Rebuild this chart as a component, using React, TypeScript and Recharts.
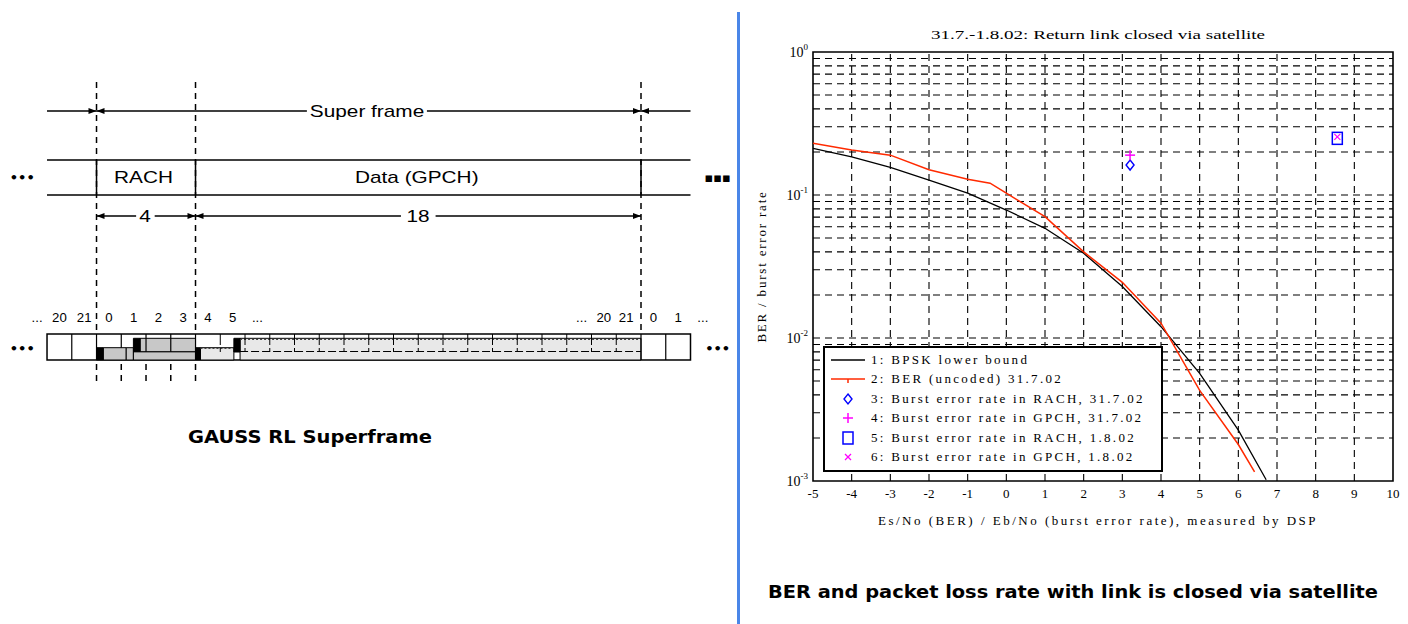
import React from "react";
import {
  ComposedChart,
  Line,
  Scatter,
  XAxis,
  YAxis,
  ReferenceLine,
  ReferenceArea,
  Legend,
} from "recharts";

// ---------- right chart: BER curves ----------
const bpskX = [-5, -4, -3, -2, -1, 0, 1, 2, 3, 4, 5, 6, 6.72];
const bpskY = [0.212, 0.185, 0.156, 0.127, 0.103, 0.0785, 0.0585, 0.0391, 0.0229, 0.012, 0.00566, 0.00227, 0.00102];

const berX = [-5, -4, -3, -2, -1, -0.42, 0, 1, 2, 3, 4, 5, 6, 6.42];
const berY = [0.23, 0.2065, 0.19, 0.15, 0.129, 0.121, 0.103, 0.0705, 0.04, 0.0245, 0.0127, 0.0043, 0.0018, 0.00116];

const rach3107 = [{ x: 3.2, y: 0.162 }];
const gpch3107 = [{ x: 3.2, y: 0.19 }];
const rach0108 = [{ x: 8.56, y: 0.249 }];
const gpch0108 = [{ x: 8.56, y: 0.255 }];

const xTicks = [-5, -4, -3, -2, -1, 0, 1, 2, 3, 4, 5, 6, 7, 8, 9, 10];
const yTicks = [0.001, 0.01, 0.1, 1];
const yGrid = [
  0.002, 0.003, 0.004, 0.005, 0.006, 0.007, 0.008, 0.009, 0.01,
  0.02, 0.03, 0.04, 0.05, 0.06, 0.07, 0.08, 0.09, 0.1,
  0.2, 0.3, 0.4, 0.5, 0.6, 0.7, 0.8, 0.9,
];

const legendItems = [
  { label: "1: BPSK lower bound", color: "#000000", symbol: "line" },
  { label: "2: BER (uncoded) 31.7.02", color: "#ff2a00", symbol: "tick" },
  { label: "3: Burst error rate in RACH, 31.7.02", color: "#0000ff", symbol: "diamond" },
  { label: "4: Burst error rate in GPCH, 31.7.02", color: "#ff00ff", symbol: "plus" },
  { label: "5: Burst error rate in RACH, 1.8.02", color: "#0000ff", symbol: "square" },
  { label: "6: Burst error rate in GPCH, 1.8.02", color: "#ff00ff", symbol: "cross" },
];

const bpsk = bpskX.map((x, i) => ({ x, y: bpskY[i] }));
const ber = berX.map((x, i) => ({ x, y: berY[i] }));

// ---------- left diagram: superframe (x in slots) ----------
const frameEdges = [0, 4, 22];
const boxEnds = [-2, 24];
const headLabels = [
  { x: 10.93, row: "super", text: "Super frame" },
  { x: 1.9, row: "band", text: "RACH" },
  { x: 12.94, row: "band", text: "Data (GPCH)" },
  { x: 1.96, row: "dim", text: "4" },
  { x: 12.99, row: "dim", text: "18" },
];
const slotLabels = [
  { x: -2.4, text: "..." }, { x: -1.5, text: "20" }, { x: -0.5, text: "21" },
  { x: 0.5, text: "0" }, { x: 1.5, text: "1" }, { x: 2.5, text: "2" }, { x: 3.5, text: "3" },
  { x: 4.5, text: "4" }, { x: 5.5, text: "5" }, { x: 6.5, text: "..." },
  { x: 19.6, text: "..." }, { x: 20.5, text: "20" }, { x: 21.4, text: "21" },
  { x: 22.5, text: "0" }, { x: 23.5, text: "1" }, { x: 24.5, text: "..." },
];
const arrows = [
  { x: 0, row: "super", dir: 1 }, { x: 0, row: "super", dir: -1 },
  { x: 22, row: "super", dir: 1 }, { x: 22, row: "super", dir: -1 },
  { x: 0, row: "dim", dir: -1 }, { x: 4, row: "dim", dir: 1 },
  { x: 4, row: "dim", dir: -1 }, { x: 22, row: "dim", dir: 1 },
];
const superGaps = [[-2, 8.5], [13.35, 24]];
const dimGaps = [[0, 1.6], [2.35, 4], [4, 12.3], [13.7, 22]];
const ellipses = [
  { x: -3.0, row: "band", text: "•••" }, { x: 25.1, row: "band", text: "▪▪▪" },
  { x: -3.0, row: "slots", text: "•••" }, { x: 25.1, row: "slots", text: "•••" },
];
const fullDividers = [-1, 0, 4, 22, 23];
const rachDividers = [1, 2, 3];
const dataDividers = [5, 6, 7, 8, 9, 10, 11, 12, 13, 14, 15, 16, 17, 18, 19, 20, 21];
const underTicks = [0, 1, 2, 3, 4];
// bursts: [x1, x2, top, bottom, fill]
const bursts: [number, number, number, number, string][] = [
  [0.27, 1.2, 347.7, 360, "#c8c8c8"],
  [1.2, 1.49, 347.7, 360, "#c8c8c8"],
  [1.49, 4, 351.7, 360, "#c8c8c8"],
  [1.76, 4, 338.3, 351.7, "#c8c8c8"],
  [4.2, 5.55, 347.7, 360, "#e8e8e8"],
  [5.8, 22, 338.3, 360, "#e8e8e8"],
  [0, 0.27, 347.7, 360, "#000"],
  [1.49, 1.76, 338.3, 351.7, "#000"],
  [4, 4.2, 347.7, 360, "#000"],
  [5.55, 5.8, 338.3, 352, "#000"],
];

const rowY: Record<string, number> = { super: 111, band: 177, dim: 216, slots: 348, labels: 318 };

const serif = "'Liberation Serif', 'Times New Roman', serif";
const sans = "'Liberation Sans', Arial, sans-serif";

const stretch = (cx: number, cy: number, k: number) =>
  `translate(${cx} ${cy}) scale(${k} 1) translate(${-cx} ${-cy})`;

const BigText = (p: any) => (
  <text x={p.cx} y={p.cy} dy={6} textAnchor="middle" fontFamily={sans} fontSize={16} fill="#000"
    transform={stretch(p.cx, p.cy, 1.3)}>
    {p.payload.text}
  </text>
);

const SmallText = (p: any) => (
  <text x={p.cx} y={p.cy} dy={4} textAnchor="middle" fontFamily={sans} fontSize={12} fill="#000"
    transform={stretch(p.cx, p.cy, 1.1)}>
    {p.payload.text}
  </text>
);

const DotText = (p: any) => (
  <text x={p.cx} y={p.cy} dy={5} textAnchor="middle" fontFamily="'DejaVu Sans', sans-serif" fontSize={13}
    fontWeight="bold" fill="#000">
    {p.payload.text}
  </text>
);

const Arrow = (p: any) => {
  const d = p.payload.dir;
  return (
    <polygon points={`${p.cx},${p.cy} ${p.cx - d * 8},${p.cy - 3} ${p.cx - d * 8},${p.cy + 3}`} fill="#000" />
  );
};

function Superframe() {
  const withY = (arr: any[]) => arr.map((d) => ({ ...d, y: rowY[d.row] }));
  return (
    <ComposedChart width={740} height={624} margin={{ top: 0, right: 0, bottom: 0, left: 0 }}>
      <XAxis type="number" dataKey="x" domain={[-3.9, 26]} hide allowDataOverflow />
      <YAxis type="number" dataKey="y" domain={[0, 624]} reversed hide allowDataOverflow />

      <ReferenceArea x1={boxEnds[0]} x2={boxEnds[1]} y1={334} y2={360} fill="#fff" fillOpacity={1}
        stroke="#000" strokeWidth={1.5} />
      {bursts.map(([a, b, t, btm, f], i) => (
        <ReferenceArea key={"b" + i} x1={a} x2={b} y1={t} y2={btm} fill={f} fillOpacity={1}
          stroke="#000" strokeWidth={1} />
      ))}
      <ReferenceLine segment={[{ x: 5.8, y: 351.5 }, { x: 22, y: 351.5 }]} stroke="#000" strokeDasharray="8 3" />
      <ReferenceLine segment={[{ x: 5.8, y: 339.5 }, { x: 22, y: 339.5 }]} stroke="#444" strokeDasharray="2 2" />
      <ReferenceLine segment={[{ x: 4.2, y: 348.5 }, { x: 5.5, y: 348.5 }]} stroke="#444" strokeDasharray="2 2" />

      {fullDividers.map((s) => (
        <ReferenceLine key={"f" + s} segment={[{ x: s, y: 334 }, { x: s, y: 360 }]} stroke="#000" strokeWidth={1.2} />
      ))}
      {rachDividers.map((s) => (
        <ReferenceLine key={"r" + s} segment={[{ x: s, y: 334 }, { x: s, y: s === 1 ? 347.7 : 351.7 }]}
          stroke="#000" strokeWidth={1.2} />
      ))}
      {dataDividers.map((s) => (
        <ReferenceLine key={"d" + s} segment={[{ x: s, y: 334 }, { x: s, y: 345 }]} stroke="#000" strokeWidth={1} />
      ))}
      {dataDividers.map((s) => (
        <ReferenceLine key={"dd" + s} segment={[{ x: s, y: 348 }, { x: s, y: 352 }]} stroke="#000" strokeWidth={1} />
      ))}

      {frameEdges.map((s) => (
        <ReferenceLine key={"e" + s} segment={[{ x: s, y: 82 }, { x: s, y: 332 }]} stroke="#000"
          strokeWidth={1.5} strokeDasharray="6 5" />
      ))}
      {underTicks.map((s) => (
        <ReferenceLine key={"u" + s} segment={[{ x: s, y: 364 }, { x: s, y: 382 }]} stroke="#000"
          strokeWidth={1.5} strokeDasharray="6 5" />
      ))}
      {[160, 195].map((y) => (
        <ReferenceLine key={"h" + y} segment={[{ x: -2, y }, { x: 24, y }]} stroke="#000" strokeWidth={1.5} />
      ))}
      {frameEdges.map((s) => (
        <ReferenceLine key={"v" + s} segment={[{ x: s, y: 160 }, { x: s, y: 195 }]} stroke="#000" strokeWidth={1.5} />
      ))}
      {superGaps.map(([a, b], i) => (
        <ReferenceLine key={"s" + i} segment={[{ x: a, y: rowY.super }, { x: b, y: rowY.super }]} stroke="#000"
          strokeWidth={1.5} />
      ))}
      {dimGaps.map(([a, b], i) => (
        <ReferenceLine key={"m" + i} segment={[{ x: a, y: rowY.dim }, { x: b, y: rowY.dim }]} stroke="#000"
          strokeWidth={1.5} />
      ))}

      <Scatter data={withY(arrows)} shape={Arrow} isAnimationActive={false} />
      <Scatter data={withY(headLabels)} shape={BigText} isAnimationActive={false} />
      <Scatter data={slotLabels.map((d) => ({ ...d, y: rowY.labels }))} shape={SmallText} isAnimationActive={false} />
      <Scatter data={withY(ellipses)} shape={DotText} isAnimationActive={false} />
    </ComposedChart>
  );
}

// ---------- right chart pieces ----------
const XTick = (p: any) => (
  <text x={p.x} y={p.y + 17} textAnchor="middle" fontFamily={serif} fontSize={13} fill="#000">
    {p.payload.value}
  </text>
);

const YTick = (p: any) => {
  const e = Math.round(Math.log10(p.payload.value));
  return (
    <text x={p.x - 5} y={p.y + 5} textAnchor="end" fontFamily={serif} fontSize={14} fill="#000">
      10
      <tspan dy={-7} fontSize={9}>{e}</tspan>
    </text>
  );
};

const XLabel = (p: any) => {
  const vb = p.viewBox || { x: 73, y: 481, width: 580, height: 50 };
  return (
    <text x={vb.x + vb.width / 2 - 5} y={vb.y + 44} textAnchor="middle" fontFamily={serif} fontSize={13}
      letterSpacing={2.5} fill="#000">
      Es/No (BER) / Eb/No (burst error rate), measured by DSP
    </text>
  );
};

const YLabel = (p: any) => {
  const vb = p.viewBox || { x: 0, y: 52, width: 73, height: 429 };
  const cx = vb.x + 26;
  const cy = vb.y + vb.height / 2;
  return (
    <text x={cx} y={cy} textAnchor="middle" fontFamily={serif} fontSize={13} letterSpacing={1.8}
      transform={`rotate(-90 ${cx} ${cy})`} fill="#000">
      BER / burst error rate
    </text>
  );
};

const Diamond = (p: any) => (
  <polygon points={`${p.cx},${p.cy - 5} ${p.cx + 4},${p.cy} ${p.cx},${p.cy + 5} ${p.cx - 4},${p.cy}`}
    fill="none" stroke="#0000ff" strokeWidth={1.4} />
);
const Plus = (p: any) => (
  <g stroke="#ff00ff" strokeWidth={1.5}>
    <line x1={p.cx - 5} y1={p.cy} x2={p.cx + 5} y2={p.cy} />
    <line x1={p.cx} y1={p.cy - 5} x2={p.cx} y2={p.cy + 5} />
  </g>
);
const Square = (p: any) => (
  <rect x={p.cx - 5} y={p.cy - 6} width={10} height={12} fill="none" stroke="#0000ff" strokeWidth={1.5} />
);
const Cross = (p: any) => (
  <g stroke="#ff00ff" strokeWidth={1.2}>
    <line x1={p.cx - 3} y1={p.cy - 3} x2={p.cx + 3} y2={p.cy + 3} />
    <line x1={p.cx - 3} y1={p.cy + 3} x2={p.cx + 3} y2={p.cy - 3} />
  </g>
);

const LegendSymbol = ({ kind, color }: { kind: string; color: string }) => {
  const p = { cx: 23, cy: 10 };
  if (kind === "line") return <line x1={6} y1={10} x2={40} y2={10} stroke={color} strokeWidth={1.5} />;
  if (kind === "tick")
    return (
      <g stroke={color} strokeWidth={1.5}>
        <line x1={6} y1={10} x2={40} y2={10} />
        <line x1={23} y1={10} x2={23} y2={14} />
      </g>
    );
  if (kind === "diamond") return <Diamond {...p} />;
  if (kind === "plus") return <Plus {...p} />;
  if (kind === "square") return <Square {...p} />;
  return <Cross {...p} />;
};

const LegendBox = () => (
  <div style={{ width: 336, height: 120, border: "2px solid #000", background: "#fff", paddingTop: 2, boxSizing: "content-box" }}>
    {legendItems.map((it) => (
      <div key={it.label} style={{ display: "flex", alignItems: "center", height: 19.5 }}>
        <svg width={46} height={20} style={{ flex: "none" }}>
          <LegendSymbol kind={it.symbol} color={it.color} />
        </svg>
        <span style={{ fontFamily: serif, fontSize: 13, letterSpacing: 2.3, whiteSpace: "nowrap", color: "#000" }}>
          {it.label}
        </span>
      </div>
    ))}
  </div>
);

function BerChart() {
  return (
    <ComposedChart width={668} height={624} margin={{ top: 52, right: 15, bottom: 93, left: 0 }}>
      <XAxis type="number" dataKey="x" domain={[-5, 10]} ticks={xTicks} height={50} axisLine={false}
        tickLine={false} tickSize={0} tickMargin={0} tick={<XTick />} label={XLabel} allowDataOverflow
        interval={0} />
      <YAxis type="number" dataKey="y" scale="log" domain={[0.001, 1]} ticks={yTicks} width={73}
        axisLine={false} tickLine={false} tickSize={0} tickMargin={0} tick={<YTick />} label={YLabel}
        allowDataOverflow interval={0} />

      {yGrid.map((v) => (
        <ReferenceLine key={"y" + v} y={v} stroke="#000" strokeWidth={1.1} strokeDasharray="7 5" />
      ))}
      {xTicks.slice(1, -1).map((v) => (
        <ReferenceLine key={"x" + v} x={v} stroke="#000" strokeWidth={1.1} strokeDasharray="7 5" />
      ))}
      <ReferenceArea x1={-5} x2={10} y1={0.001} y2={1} fill="none" stroke="#000" strokeWidth={1.6} />

      <Line data={bpsk} dataKey="y" type="linear" stroke="#000" strokeWidth={1.3} dot={false}
        isAnimationActive={false} />
      <Line data={ber} dataKey="y" type="linear" stroke="#ff2a00" strokeWidth={1.5} dot={false}
        isAnimationActive={false} />
      <Scatter data={rach3107} shape={Diamond} isAnimationActive={false} />
      <Scatter data={gpch3107} shape={Plus} isAnimationActive={false} />
      <Scatter data={rach0108} shape={Square} isAnimationActive={false} />
      <Scatter data={gpch0108} shape={Cross} isAnimationActive={false} />

      <Legend content={<LegendBox />} layout="horizontal" verticalAlign="middle" align="center"
        wrapperStyle={{ left: 83, top: 346, width: 340, height: 124 }} />
    </ComposedChart>
  );
}

export default function App() {
  return (
    <div style={{ position: "absolute", left: 0, top: 0, width: 1408, height: 624, background: "#fff", overflow: "hidden" }}>
      <div style={{ position: "absolute", left: 0, top: 0 }}>
        <Superframe />
      </div>
      <div style={{ position: "absolute", left: 740, top: 0 }}>
        <BerChart />
      </div>
      <svg width={1408} height={624} style={{ position: "absolute", left: 0, top: 0, pointerEvents: "none" }}>
        <rect x={737} y={12} width={3} height={612} fill="#4a86e8" />
        <text x={1098} y={39} textAnchor="middle" fontFamily={serif} fontSize={13} textLength={334}
          lengthAdjust="spacingAndGlyphs">
          31.7.-1.8.02: Return link closed via satellite
        </text>
        <text x={310} y={443} textAnchor="middle" fontFamily="'DejaVu Sans', Verdana, sans-serif" fontSize={17}
          fontWeight="bold" textLength={244} lengthAdjust="spacingAndGlyphs">
          GAUSS RL Superframe
        </text>
        <text x={1073} y={598} textAnchor="middle" fontFamily="'DejaVu Sans', Verdana, sans-serif" fontSize={18}
          fontWeight="bold" textLength={610} lengthAdjust="spacingAndGlyphs">
          BER and packet loss rate with link is closed via satellite
        </text>
      </svg>
    </div>
  );
}
